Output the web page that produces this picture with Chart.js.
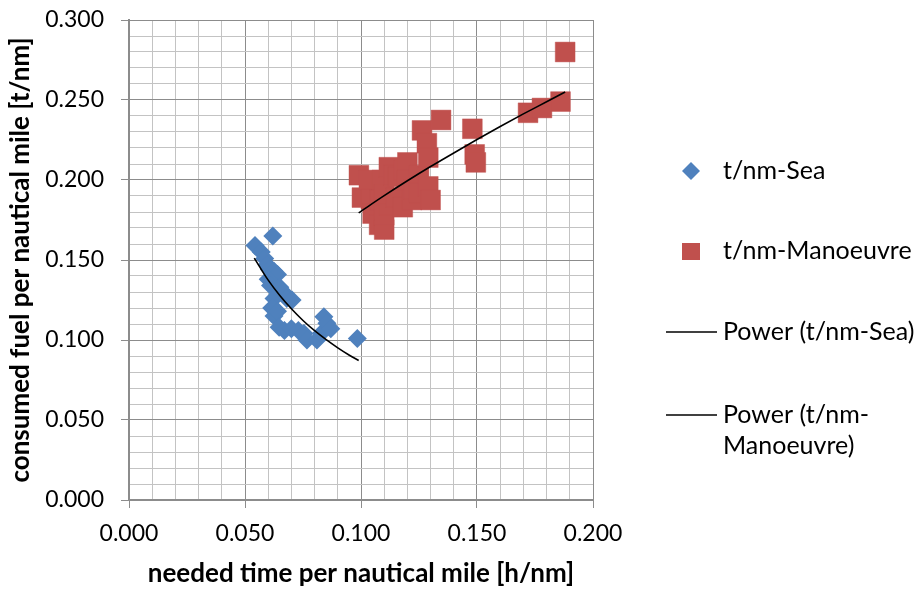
<!DOCTYPE html>
<html>
<head>
<meta charset="utf-8">
<script src="https://cdn.jsdelivr.net/npm/chart.js@4"></script>
<style>
  html, body { margin: 0; padding: 0; background: #ffffff; }
  #wrap { width: 916px; height: 592px; position: relative; }
</style>
</head>
<body>
<div id="wrap"><canvas id="c" width="916" height="592"></canvas></div>
<script>
// ---- data ----
const seaX = [0.0543,0.0620,0.0570,0.0585,0.0595,0.0605,0.0625,0.0640,0.0600,0.0610,0.0650,0.0665,0.0680,0.0625,0.0703,0.0615,0.0625,0.0640,0.0647,0.0670,0.0700,0.0730,0.0754,0.0767,0.0810,0.0828,0.0840,0.0853,0.0870,0.0984];
const seaY = [0.159,0.165,0.155,0.151,0.147,0.144,0.143,0.141,0.138,0.134,0.133,0.130,0.126,0.126,0.125,0.120,0.115,0.118,0.108,0.106,0.107,0.106,0.104,0.100,0.100,0.104,0.1145,0.1105,0.107,0.101];

const manX = [0.0991,0.1004,0.1034,0.1043,0.1050,0.1080,0.1078,0.1100,0.1100,0.1090,0.1120,0.1100,0.1120,0.1140,0.1150,0.1160,0.1180,0.1185,0.1200,0.1198,0.1220,0.1228,0.1250,0.1250,0.1263,0.1284,0.1290,0.1290,0.1300,0.1345,0.1480,0.1490,0.1495,0.1720,0.1780,0.1860,0.1880];
const manY = [0.203,0.189,0.200,0.188,0.179,0.1875,0.172,0.169,0.178,0.200,0.184,0.191,0.208,0.203,0.189,0.202,0.183,0.206,0.211,0.200,0.1875,0.194,0.203,0.192,0.231,0.223,0.214,0.196,0.1875,0.2375,0.232,0.216,0.211,0.242,0.245,0.249,0.280];

// trend curves
const seaTrendX = [0.054,0.060,0.065,0.070,0.075,0.080,0.085,0.090,0.095,0.099];
const seaTrendY = [0.1512,0.1374,0.1278,0.1195,0.1122,0.1058,0.1002,0.0951,0.0905,0.0872];
const manTrendX = [0.099,0.110,0.120,0.130,0.140,0.150,0.160,0.170,0.180,0.188];
const manTrendY = [0.1795,0.1902,0.1995,0.2084,0.2169,0.2253,0.2334,0.2413,0.2489,0.2550];

const seriesLabels = ['t/nm-Sea','t/nm-Manoeuvre','Power (t/nm-Sea)','Power (t/nm-Manoeuvre)'];
const xTitle = 'needed time per nautical mile [h/nm]';
const yTitle = 'consumed fuel per nautical mile [t/nm]';

// ---- build ----
const pts = (xs, ys) => xs.map((x, i) => ({x, y: ys[i]}));
const FONT = 'Lato, "Open Sans", sans-serif';
const BLUE = '#4F81BD', RED = '#C0504D';
const MAJOR = '#8C8C8C', MINOR = '#C3C3C3';
const isMajor = v => Math.abs(v * 20 - Math.round(v * 20)) < 1e-6;

const legendPlugin = {
  id: 'sideLegend',
  afterDraw(chart) {
    const ctx = chart.ctx;
    const ds = chart.data.datasets;
    const textX = 723;
    ctx.save();
    ctx.font = '25px ' + FONT;
    ctx.fillStyle = '#000';
    ctx.textBaseline = 'middle';
    ctx.textAlign = 'left';
    const items = [
      {d: ds[2], y: 171},
      {d: ds[3], y: 251},
      {d: ds[0], y: 332},
      {d: ds[1], y: 415}
    ];
    items.forEach(it => {
      const d = it.d;
      if (d.showLine) {
        ctx.strokeStyle = d.borderColor;
        ctx.lineWidth = 1.5;
        ctx.beginPath();
        ctx.moveTo(666, it.y);
        ctx.lineTo(717, it.y);
        ctx.stroke();
      } else {
        ctx.fillStyle = d.backgroundColor;
        if (d.pointStyle === 'rectRot') {
          ctx.beginPath();
          ctx.moveTo(691, it.y - 9);
          ctx.lineTo(700, it.y);
          ctx.lineTo(691, it.y + 9);
          ctx.lineTo(682, it.y);
          ctx.closePath();
          ctx.fill();
        } else {
          ctx.fillRect(682, it.y - 8, 18, 17);
        }
        ctx.fillStyle = '#000';
      }
      const label = d.label;
      if (label === 'Power (t/nm-Manoeuvre)') {
        ctx.fillText('Power (t/nm-', textX, it.y);
        ctx.fillText('Manoeuvre)', textX, it.y + 31);
      } else {
        ctx.fillText(label, textX, it.y);
      }
    });
    ctx.restore();
  }
};

new Chart(document.getElementById('c'), {
  type: 'scatter',
  data: {
    datasets: [
      { label: seriesLabels[2], data: pts(seaTrendX, seaTrendY), showLine: true, borderColor: '#000', borderWidth: 1.6,
        pointRadius: 0, pointHoverRadius: 0, cubicInterpolationMode: 'monotone', order: 0 },
      { label: seriesLabels[3], data: pts(manTrendX, manTrendY), showLine: true, borderColor: '#000', borderWidth: 1.6,
        pointRadius: 0, pointHoverRadius: 0, cubicInterpolationMode: 'monotone', order: 0 },
      { label: seriesLabels[0], data: pts(seaX, seaY), pointStyle: 'rectRot', pointRadius: 9.5,
        backgroundColor: BLUE, borderColor: BLUE, borderWidth: 0, order: 2 },
      { label: seriesLabels[1], data: pts(manX, manY), pointStyle: 'rect', pointRadius: 14,
        backgroundColor: RED, borderColor: 'rgba(192,80,77,0.85)', borderWidth: 0.5, order: 1 }
    ]
  },
  options: {
    responsive: false,
    animation: false,
    devicePixelRatio: 1,
    layout: { padding: { left: 0, top: 20, right: 323, bottom: 0 } },
    plugins: { legend: { display: false }, tooltip: { enabled: false } },
    scales: {
      x: {
        type: 'linear', min: 0, max: 0.2,
        afterFit(s) { s.height = 92; },
        afterBuildTicks(s) { s.ticks = Array.from({length: 21}, (_, i) => ({value: i / 100})); },
        ticks: {
          autoSkip: false, maxRotation: 0, padding: 12,
          callback: v => isMajor(v) ? v.toFixed(3) : '',
          font: { family: FONT, size: 23 }, color: '#000'
        },
        grid: {
          color: c => isMajor(c.tick.value) ? MAJOR : MINOR,
          tickColor: c => isMajor(c.tick.value) ? MAJOR : 'rgba(0,0,0,0)',
          tickLength: 8, lineWidth: 1
        },
        border: { color: MAJOR, width: 2 },
        title: { display: true, text: xTitle, font: { family: FONT, size: 26, weight: 'bold' }, color: '#000',
                 padding: { top: 0, bottom: 3 } }
      },
      y: {
        type: 'linear', min: 0, max: 0.3,
        afterFit(s) { s.width = 129; s.paddingTop = 10; s.paddingBottom = 10; },
        afterBuildTicks(s) { s.ticks = Array.from({length: 31}, (_, i) => ({value: i / 100})); },
        ticks: {
          autoSkip: false, padding: 17,
          callback: v => isMajor(v) ? v.toFixed(3) : '',
          font: { family: FONT, size: 23 }, color: '#000'
        },
        grid: {
          color: c => isMajor(c.tick.value) ? MAJOR : MINOR,
          tickColor: c => isMajor(c.tick.value) ? MAJOR : 'rgba(0,0,0,0)',
          tickLength: 8, lineWidth: 1
        },
        border: { color: MAJOR, width: 2 },
        title: { display: true, text: yTitle, font: { family: FONT, size: 26, weight: 'bold' }, color: '#000',
                 padding: { top: 5, bottom: 0 } }
      }
    }
  },
  plugins: [legendPlugin]
});
</script>
</body>
</html>
